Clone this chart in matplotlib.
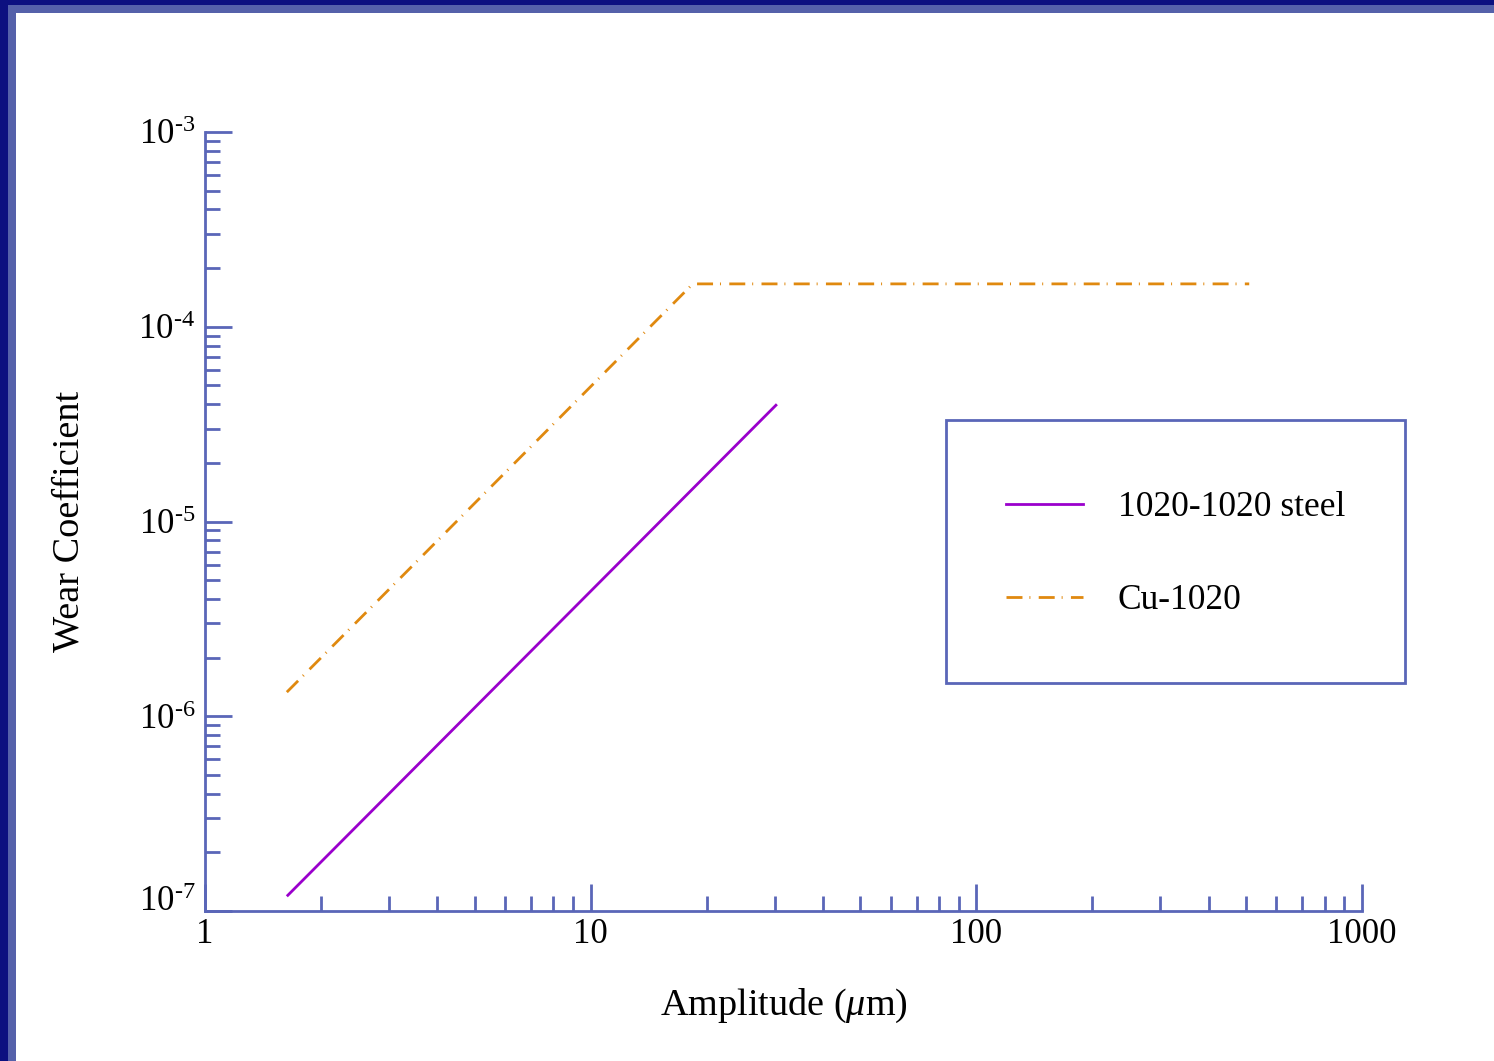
import matplotlib
matplotlib.use("Agg")
import matplotlib.pyplot as plt
from matplotlib.patches import Rectangle
from matplotlib.ticker import LogLocator, NullFormatter, FixedLocator
from matplotlib.lines import Line2D

plt.rcParams['font.family'] = ['Liberation Serif', 'DejaVu Serif']
plt.rcParams['mathtext.fontset'] = 'custom'
plt.rcParams['mathtext.rm'] = 'Liberation Serif'
plt.rcParams['mathtext.it'] = 'Liberation Serif:italic'
plt.rcParams['lines.scale_dashes'] = False

# ---- data ----
steel_x = [1.63, 30.4]
steel_y = [1.19e-7, 4.0e-5]
cu_x = [1.63, 18.4, 510]
cu_y = [1.33e-6, 1.66e-4, 1.66e-4]
series_labels = ["1020-1020 steel", "Cu-1020"]
x_ticks = [1, 10, 100, 1000]
x_tick_labels = ["1", "10", "100", "1000"]
y_ticks = [1e-7, 1e-6, 1e-5, 1e-4, 1e-3]
y_tick_labels = [r"$10^{\text{-}7}$", r"$10^{\text{-}6}$", r"$10^{\text{-}5}$",
                 r"$10^{\text{-}4}$", r"$10^{\text{-}3}$"]

W, H = 1494, 1061
AX_COL = "#5a66b8"
PURPLE = "#9a00cc"
ORANGE = "#e0890f"

fig = plt.figure(figsize=(W / 100, H / 100), dpi=100)
fig.patch.set_facecolor("white")
# frame border (top and left)
fig.patches.append(Rectangle((0, 1 - 13 / H), 1, 13 / H, transform=fig.transFigure,
                             facecolor="#5561aa", edgecolor="none", zorder=0))
fig.patches.append(Rectangle((0, 0), 16 / W, 1, transform=fig.transFigure,
                             facecolor="#5561aa", edgecolor="none", zorder=0))
fig.patches.append(Rectangle((0, 1 - 5 / H), 1, 5 / H, transform=fig.transFigure,
                             facecolor="#0c1080", edgecolor="none", zorder=1))
fig.patches.append(Rectangle((0, 0), 8 / W, 1, transform=fig.transFigure,
                             facecolor="#0c1080", edgecolor="none", zorder=1))

left, right, top, bottom = 205, 1362, 132, 911
ax = fig.add_axes([left / W, 1 - bottom / H, (right - left) / W, (bottom - top) / H])
ax.set_xscale("log")
ax.set_yscale("log")
ax.set_xlim(1, 1000)
ax.set_ylim(1e-7, 1e-3)

dash = (0, (11.5, 5.0, 0.7, 6.0))
LW = 2.0
ax.plot(steel_x, steel_y, color=PURPLE, lw=LW, solid_capstyle="butt")
ax.plot(cu_x, cu_y, color=ORANGE, lw=LW, linestyle=dash, dash_capstyle="butt")

for s in ["top", "right"]:
    ax.spines[s].set_visible(False)
for s in ["left", "bottom"]:
    ax.spines[s].set_color(AX_COL)
    ax.spines[s].set_linewidth(2.0)

ax.xaxis.set_major_locator(FixedLocator(x_ticks))
ax.set_xticklabels(x_tick_labels)
ax.xaxis.set_minor_locator(LogLocator(base=10, subs=range(2, 10)))
ax.xaxis.set_minor_formatter(NullFormatter())
ax.yaxis.set_major_locator(FixedLocator(y_ticks))
ax.set_yticklabels(y_tick_labels)
ax.yaxis.set_minor_locator(LogLocator(base=10, subs=range(2, 10)))
ax.yaxis.set_minor_formatter(NullFormatter())

ax.tick_params(which="major", direction="in", length=19.5, width=2.0, color=AX_COL,
               labelsize=25, pad=4)
ax.tick_params(which="minor", direction="in", length=10.5, width=2.0, color=AX_COL)
ax.tick_params(axis="y", which="major", pad=7)
ax.tick_params(axis="x", which="major", pad=5)

for lab in ax.get_yticklabels():
    if lab.get_text() == y_tick_labels[0]:
        lab.set_va("baseline")

ax.set_xlabel(r"Amplitude ($\mathit{\mu}$m)", fontsize=27.5, labelpad=26)
ax.set_ylabel("Wear Coefficient", fontsize=27.5, labelpad=37)

# legend frame (pixel box 946..1405 x 420..683)
def ax_x(px):
    return (px - left) / (right - left)

def ax_y(py):
    return (bottom - py) / (bottom - top)

ax.add_patch(Rectangle((ax_x(946), ax_y(683)), ax_x(1405) - ax_x(946), ax_y(420) - ax_y(683),
                       transform=ax.transAxes, facecolor="white", edgecolor=AX_COL,
                       linewidth=2.0, clip_on=False, zorder=4))

handles = [Line2D([], [], color=PURPLE, lw=LW),
           Line2D([], [], color=ORANGE, lw=LW, linestyle=dash)]
leg = ax.legend(handles, series_labels, loc="upper left",
                bbox_to_anchor=(ax_x(1006), ax_y(491)),
                fontsize=25.5, frameon=False, borderpad=0,
                handlelength=2.17, handletextpad=0.98, labelspacing=1.7,
                borderaxespad=0)
leg.set_zorder(5)

fig.savefig("out.png", dpi=100, facecolor=fig.get_facecolor())
